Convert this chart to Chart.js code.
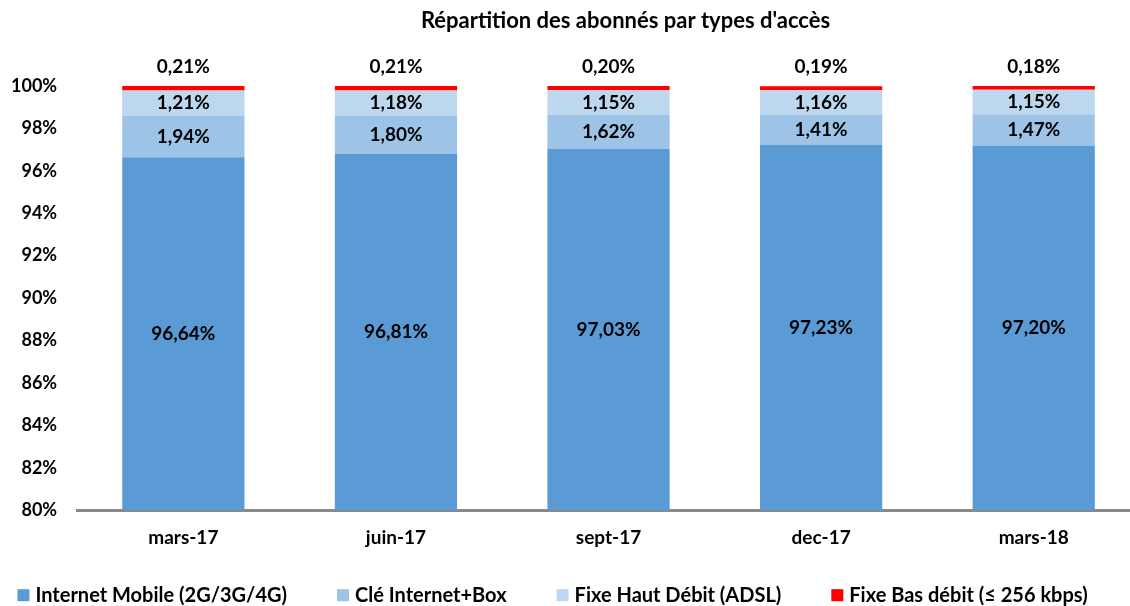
<!DOCTYPE html>
<html>
<head>
<meta charset="utf-8">
<script src="https://cdn.jsdelivr.net/npm/chart.js@4.4.1/dist/chart.umd.min.js"></script>
<style>
    html, body { margin: 0; padding: 0; background: #fff; overflow: hidden; width: 1130px; height: 606px; }
    /* plot area in the original runs past the right edge of the picture */
    #wrap { position: absolute; left: -9px; top: 0; width: 1149px; height: 606px; }
</style>
</head>
<body>
<div id="wrap"><canvas id="abonnesChart"></canvas></div>
<script>
// Data
const categories = ['mars-17', 'juin-17', 'sept-17', 'dec-17', 'mars-18'];
const internetMobile = [96.64, 96.81, 97.03, 97.23, 97.20];
const cleInternetBox = [1.94, 1.80, 1.62, 1.41, 1.47];
const fixeHautDebit = [1.21, 1.18, 1.15, 1.16, 1.15];
const fixeBasDebit = [0.21, 0.21, 0.20, 0.19, 0.18];
const seriesNames = ['Internet Mobile (2G/3G/4G)', 'Clé Internet+Box', 'Fixe Haut Débit (ADSL)', 'Fixe Bas débit (≤ 256 kbps)'];
const yMin = 80, yMax = 100, yStep = 2;
const chartTitle = "Répartition des abonnés par types d'accès";

const FONT = 'Lato, "Noto Sans", sans-serif';

function fmt(v) {
    return v.toFixed(2).replace('.', ',') + '%';
}

// Value labels drawn on/above the segments (no datalabels plugin available offline)
const valueLabels = {
    id: 'valueLabels',
    afterDatasetsDraw(chart) {
        const ctx = chart.ctx;
        const bottom = chart.chartArea.bottom;
        const last = chart.data.datasets.length - 1;
        ctx.save();
        ctx.font = 'bold 19px ' + FONT;
        ctx.fillStyle = '#000';
        ctx.textAlign = 'center';
        ctx.textBaseline = 'middle';
        chart.data.datasets.forEach((ds, di) => {
            const meta = chart.getDatasetMeta(di);
            meta.data.forEach((bar, i) => {
                const base = Math.min(bar.base, bottom);
                const y = di === last ? bar.y - 19 : (bar.y + base) / 2;
                ctx.fillText(fmt(ds.data[i]), bar.x, y);
            });
        });
        ctx.restore();
    }
};

// Title, a bit right of centre like the original
const offsetTitle = {
    id: 'offsetTitle',
    afterDraw(chart) {
        const ctx = chart.ctx;
        const area = chart.chartArea;
        ctx.save();
        ctx.font = 'bold 22px ' + FONT;
        ctx.fillStyle = '#000';
        ctx.textAlign = 'center';
        ctx.textBaseline = 'middle';
        ctx.fillText(chartTitle, (area.left + area.right) / 2 + 17, 21);
        ctx.restore();
    }
};

// Legend row at the bottom (built-in legend can't separate vertical / horizontal spacing)
const bottomLegend = {
    id: 'bottomLegend',
    afterDraw(chart) {
        const ctx = chart.ctx;
        const area = chart.chartArea;
        const box = 12, gapText = 6, gapItem = 50;
        ctx.save();
        ctx.font = 'bold 20px ' + FONT;
        const items = chart.data.datasets.map(ds => ({
            text: ds.label,
            color: ds.backgroundColor,
            w: box + gapText + ctx.measureText(ds.label).width
        }));
        const total = items.reduce((s, it) => s + it.w, 0) + gapItem * (items.length - 1);
        let x = (area.left + area.right) / 2 - 56 - total / 2;
        const y = area.bottom + 85;
        ctx.textBaseline = 'middle';
        ctx.textAlign = 'left';
        items.forEach(it => {
            ctx.fillStyle = it.color;
            ctx.fillRect(x, y - box / 2, box, box);
            ctx.fillStyle = '#000';
            ctx.fillText(it.text, x + box + gapText, y);
            x += it.w + gapItem;
        });
        ctx.restore();
    }
};

const ctx = document.getElementById('abonnesChart');
new Chart(ctx, {
    type: 'bar',
    data: {
        labels: categories,
        datasets: [
            { label: seriesNames[0], data: internetMobile, backgroundColor: '#5B9BD5' },
            { label: seriesNames[1], data: cleInternetBox, backgroundColor: '#9DC3E6' },
            { label: seriesNames[2], data: fixeHautDebit, backgroundColor: '#BDD7EE' },
            { label: seriesNames[3], data: fixeBasDebit, backgroundColor: '#FF0000' }
        ].map(d => Object.assign(d, {
            categoryPercentage: 1,
            barPercentage: 0.575,
            borderWidth: 0,
            clip: { left: 0, top: false, right: 0, bottom: 0 }
        }))
    },
    options: {
        responsive: true,
        maintainAspectRatio: false,
        animation: false,
        layout: {
            padding: { top: 86, right: 0, left: 0, bottom: 41 }
        },
        plugins: {
            title: { display: false },
            tooltip: { enabled: false },
            legend: { display: false }
        },
        scales: {
            x: {
                stacked: true,
                grid: { display: false, drawTicks: false },
                border: { display: true, color: '#898989', width: 3 },
                ticks: {
                    color: '#000',
                    padding: 16,
                    font: { family: FONT, size: 19, weight: 'bold' }
                }
            },
            y: {
                stacked: true,
                min: yMin,
                max: yMax,
                grid: { display: false, drawTicks: false },
                border: { display: false },
                ticks: {
                    stepSize: yStep,
                    color: '#000',
                    padding: 20,
                    font: { family: FONT, size: 18, weight: 'bold' },
                    callback: v => v + '%'
                }
            }
        }
    },
    plugins: [valueLabels, offsetTitle, bottomLegend]
});
</script>
</body>
</html>
